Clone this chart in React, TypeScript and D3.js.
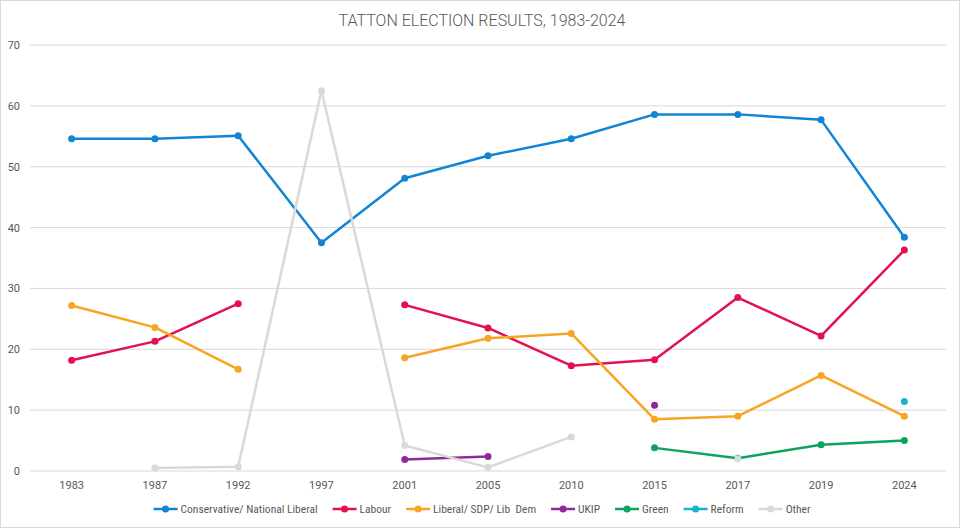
import { useEffect, useRef } from "react"
import * as d3 from "d3"

// election years (categorical axis)
const years = ["1983", "1987", "1992", "1997", "2001", "2005", "2010", "2015", "2017", "2019", "2024"]

// vote share (%) per series, null = no candidate
const conservative = [54.6, 54.6, 55.1, 37.5, 48.1, 51.8, 54.6, 58.6, 58.6, 57.7, 38.4]
const labour = [18.2, 21.3, 27.5, null, 27.3, 23.5, 17.3, 18.3, 28.5, 22.2, 36.3]
const libDem = [27.2, 23.6, 16.7, null, 18.6, 21.8, 22.6, 8.5, 9.0, 15.7, 9.0]
const ukip = [null, null, null, null, 1.9, 2.4, null, 10.8, null, null, null]
const green = [null, null, null, null, null, null, null, 3.8, 2.1, 4.3, 5.0]
const reform = [null, null, null, null, null, null, null, null, null, null, 11.4]
const other = [null, 0.5, 0.7, 62.5, 4.2, 0.6, 5.6, null, 2.0, null, null]

const yTicks = [0, 10, 20, 30, 40, 50, 60, 70]

const seriesNames = [
  "Conservative/ National Liberal",
  "Labour",
  "Liberal/ SDP/ Lib  Dem",
  "UKIP",
  "Green",
  "Reform",
  "Other",
]
const seriesValues = [conservative, labour, libDem, ukip, green, reform, other]
const seriesColors = ["#1284d6", "#e3124f", "#f7a522", "#8e2a98", "#0ba35f", "#17b4cf", "#d9d9d9"]

export default function App() {
  const svgRef = useRef<SVGSVGElement | null>(null)

  useEffect(() => {
    if (!svgRef.current) return
    document.body.style.margin = "0"

    const svg = d3.select(svgRef.current)
    svg.selectAll("*").remove()

    const width = 960
    const height = 528
    const textColor = "#595959"
    const font = "Roboto, 'Open Sans', sans-serif"

    // frame
    svg
      .append("rect")
      .attr("x", 0.5)
      .attr("y", 0.5)
      .attr("width", width - 1)
      .attr("height", height - 1)
      .attr("fill", "#fff")
      .attr("stroke", "#d9d9d9")

    // title
    svg
      .append("text")
      .attr("x", 482)
      .attr("y", 26)
      .attr("text-anchor", "middle")
      .attr("font-family", font)
      .attr("font-size", 16)
      .attr("font-weight", 300)
      .attr("fill", textColor)
      .text("TATTON ELECTION RESULTS, 1983-2024")

    // scales
    const band = d3.scaleBand().domain(years).range([30, 946]).padding(0)
    const x = (d: string) => (band(d) as number) + band.bandwidth() / 2
    const y = d3.scaleLinear().domain([0, 70]).range([471, 45])

    // gridlines + y labels
    const grid = svg.append("g")
    grid
      .selectAll("line")
      .data(yTicks)
      .enter()
      .append("line")
      .attr("x1", 30)
      .attr("x2", 946)
      .attr("y1", (d) => y(d))
      .attr("y2", (d) => y(d))
      .attr("stroke", "#d9d9d9")
      .attr("stroke-width", 1)
    grid
      .selectAll("text")
      .data(yTicks)
      .enter()
      .append("text")
      .attr("x", 20)
      .attr("y", (d) => y(d) + 4)
      .attr("text-anchor", "end")
      .attr("font-family", font)
      .attr("font-size", 11)
      .attr("fill", textColor)
      .text((d) => d)

    // x labels
    svg
      .append("g")
      .selectAll("text")
      .data(years)
      .enter()
      .append("text")
      .attr("x", (d) => x(d))
      .attr("y", 489)
      .attr("text-anchor", "middle")
      .attr("font-family", font)
      .attr("font-size", 11)
      .attr("fill", textColor)
      .text((d) => d)

    // series
    const line = d3
      .line<number | null>()
      .defined((d) => d !== null)
      .x((_, i) => x(years[i]))
      .y((d) => y(d as number))

    seriesValues.forEach((vals, si) => {
      const g = svg.append("g")
      g.append("path")
        .datum(vals)
        .attr("d", line)
        .attr("fill", "none")
        .attr("stroke", seriesColors[si])
        .attr("stroke-width", 2.5)
        .attr("stroke-linejoin", "round")
      g.selectAll("circle")
        .data(vals.map((v, i) => ({ v, i })).filter((d) => d.v !== null))
        .enter()
        .append("circle")
        .attr("cx", (d) => x(years[d.i]))
        .attr("cy", (d) => y(d.v as number))
        .attr("r", 3.5)
        .attr("fill", seriesColors[si])
    })

    // legend
    const legend = svg.append("g")
    const items: { g: any; w: number }[] = []
    seriesNames.forEach((name, i) => {
      const g = legend.append("g")
      g.append("line")
        .attr("x1", 0)
        .attr("x2", 24)
        .attr("y1", 0)
        .attr("y2", 0)
        .attr("stroke", seriesColors[i])
        .attr("stroke-width", 2.5)
      g.append("circle").attr("cx", 12).attr("cy", 0).attr("r", 3.5).attr("fill", seriesColors[i])
      const t = g
        .append("text")
        .attr("x", 27)
        .attr("y", 4)
        .attr("font-family", "'Liberation Sans Narrow', 'Roboto Condensed', Roboto, sans-serif")
        .attr("font-size", 11.5)
        .attr("fill", textColor)
        .style("white-space", "pre")
        .text(name)
      const tw = (t.node() as SVGTextElement).getComputedTextLength()
      items.push({ g, w: 27 + tw })
    })
    const gap = 15
    const total = d3.sum(items, (d) => d.w) + gap * (items.length - 1)
    let cx = 482 - total / 2
    items.forEach((it) => {
      it.g.attr("transform", `translate(${cx},509)`)
      cx += it.w + gap
    })
  }, [])

  return (
    <div style={{ position: "absolute", left: 0, top: 0 }}>
      <svg ref={svgRef} width={960} height={528} style={{ display: "block" }}></svg>
    </div>
  )
}
